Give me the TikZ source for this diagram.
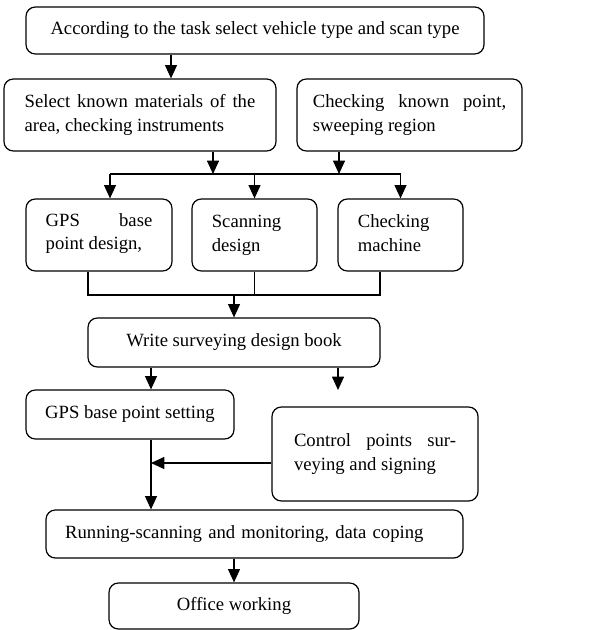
\documentclass[tikz,border=0pt]{standalone}
\usepackage{fontspec}
\setmainfont{Liberation Serif}
\usetikzlibrary{arrows.meta}

\tikzset{
  box/.style={draw, line width=0.9pt, rounded corners=7pt, inner sep=0pt, align=center},
  jbox/.style={box, align=justify},
  lbox/.style={box, align=left},
  arr/.style={line width=0.8pt, -{Triangle[length=10pt,width=9pt]}},
  ln/.style={line width=0.8pt}
}

\begin{document}
\begin{tikzpicture}[x=0.75pt, y=-0.75pt, font=\fontsize{14}{17.5}\selectfont]
    \useasboundingbox (0,0) rectangle (601,630);
    % boxes
    \node[box, minimum width=343.5pt, minimum height=35.25pt] (task) at (255,30.5)
      {According to the task select vehicle type and scan type};
    \node[jbox, minimum width=204pt, minimum height=54pt, text width=173pt] (mater) at (140,115)
      {Select known materials of the\linebreak area, checking instruments};
    \node[jbox, minimum width=168.75pt, minimum height=54pt, text width=145pt] (sweep) at (409.5,115)
      {Checking known point,\linebreak sweeping region};
    %
    \node[jbox, minimum width=109.5pt, minimum height=54pt, text width=80pt] (gpsd) at (99,235)
      {GPS base\linebreak point design,\strut};
    \node[lbox, minimum width=93.75pt, minimum height=54pt, text width=64pt] (scand) at (254.5,235)
      {\strut Scanning\\design\strut};
    \node[lbox, minimum width=93.75pt, minimum height=54pt, text width=64pt] (checkm) at (400.5,235)
      {\strut Checking\\machine\strut};
    %
    \node[box, minimum width=219pt, minimum height=36.75pt] (book) at (234,342.5)
      {Write surveying design book};
    \node[box, minimum width=156pt, minimum height=36.75pt] (gpsset) at (130,414.5)
      {GPS base point setting};
    \node[jbox, minimum width=154.5pt, minimum height=70.5pt, text width=121.5pt] (ctrl) at (375,454)
      {Control points sur-\linebreak veying and signing};
    \node[lbox, minimum width=312.75pt, minimum height=36pt, text width=284pt] (run) at (254.5,534)
      {Running-scanning and monitoring, data coping};
    \node[box, minimum width=187.5pt, minimum height=34.5pt] (office) at (234,606)
      {Office working};
    % junctions
    \coordinate (a1) at (171,0);
    \coordinate (a2) at (213,174);
    \coordinate (a3) at (339,174);
    \coordinate (b1) at (110,174);
    \coordinate (b2) at (88,295);
    \coordinate (b3) at (380,295);
    \coordinate (c1) at (151,0);
    \coordinate (c2) at (338,390);
    \coordinate (c3) at (0,463);
    % connectors
    \draw[arr] (a1 |- task.south) -- (a1 |- mater.north);
    \draw[arr] (a2 |- mater.south) -- (a2);
    \draw[arr] (a3 |- sweep.south) -- (a3);
    \draw[ln] (b1) -- (checkm.north |- b1);
    \draw[arr] (b1) -- (b1 |- gpsd.north);
    \draw[arr] (scand.north |- b1) -- (scand.north);
    \draw[arr] (checkm.north |- b1) -- (checkm.north);
    %
    \draw[ln] (b2 |- gpsd.south) -- (b2) -- (b3) -- (b3 |- checkm.south);
    \draw[ln] (scand.south) -- (scand.south |- b2);
    \draw[arr] (book.north |- b2) -- (book.north);
    %
    \draw[arr] (c1 |- book.south) -- (c1 |- gpsset.north);
    \draw[arr] (c2 |- book.south) -- (c2);
    \draw[arr] (c1 |- gpsset.south) -- (c1 |- run.north);
    \draw[arr] (ctrl.west |- c3) -- (c1 |- c3);
    \draw[arr] (office.north |- run.south) -- (office.north);
\end{tikzpicture}
\end{document}
